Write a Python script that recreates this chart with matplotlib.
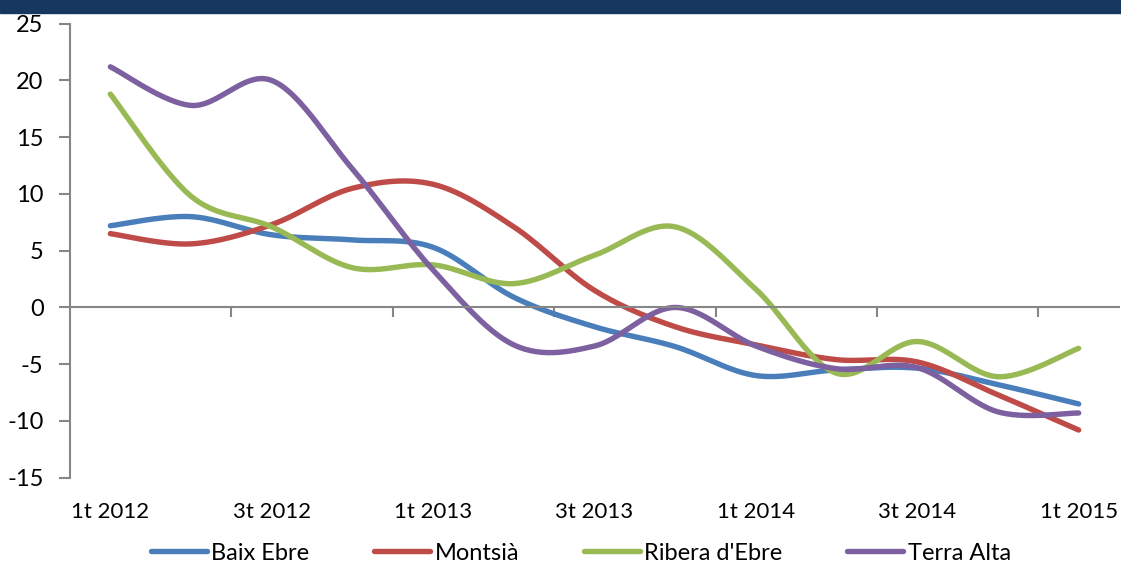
import numpy as np
import matplotlib.pyplot as plt
from matplotlib.patches import Rectangle
from matplotlib.transforms import blended_transform_factory

plt.rcParams['font.family'] = ['Lato', 'DejaVu Sans']
plt.rcParams['axes.unicode_minus'] = False

quarters = ["1t 2012", "2t 2012", "3t 2012", "4t 2012",
            "1t 2013", "2t 2013", "3t 2013", "4t 2013",
            "1t 2014", "2t 2014", "3t 2014", "4t 2014", "1t 2015"]

baix_ebre = [7.2, 8.0, 6.4, 5.95, 5.3, 0.9, -1.7, -3.45, -6.0, -5.5, -5.35, -6.8, -8.5]
montsia = [6.5, 5.6, 7.3, 10.5, 10.85, 7.1, 1.5, -1.7, -3.3, -4.6, -4.8, -7.7, -10.8]
ribera = [18.8, 9.8, 7.1, 3.5, 3.75, 2.1, 4.6, 7.1, 1.6, -5.8, -3.0, -6.1, -3.6]
terra_alta = [21.2, 17.8, 20.0, 12.2, 3.3, -3.3, -3.4, 0.0, -3.4, -5.4, -5.3, -9.2, -9.3]

series = [("Baix Ebre", baix_ebre, "#4A7EBB"),
          ("Montsià", montsia, "#BE4B48"),
          ("Ribera d'Ebre", ribera, "#98B954"),
          ("Terra Alta", terra_alta, "#7D60A0")]


def smooth(y, steps=30):
    # catmull-rom style bezier, like excel's smoothed lines
    x = np.arange(len(y), dtype=float)
    p = np.column_stack([x, np.asarray(y, dtype=float)])
    out = []
    t = np.linspace(0, 1, steps)[:, None]
    for i in range(len(p) - 1):
        p0 = p[i - 1] if i > 0 else p[i]
        p3 = p[i + 2] if i + 2 < len(p) else p[i + 1]
        c1 = p[i] + (p[i + 1] - p0) / 6
        c2 = p[i + 1] - (p3 - p[i]) / 6
        seg = ((1 - t) ** 3) * p[i] + 3 * ((1 - t) ** 2) * t * c1 \
            + 3 * (1 - t) * t ** 2 * c2 + t ** 3 * p[i + 1]
        out.append(seg if i == 0 else seg[1:])
    out = np.vstack(out)
    return out[:, 0], out[:, 1]


fig = plt.figure(figsize=(11.21, 5.67), dpi=100)
fig.patches.append(Rectangle((0, 1 - 13 / 567), 1, 13 / 567, transform=fig.transFigure,
                             color="#17375E", zorder=0))

ax = fig.add_axes([70 / 1121, 1 - 477.7 / 567, 1049 / 1121, (477.7 - 23.7) / 567])

for name, vals, col in series:
    xs, ys = smooth(vals)
    ax.plot(xs, ys, color=col, lw=3.9, label=name, solid_capstyle="round")

ax.set_xlim(-0.5, len(quarters) - 0.5)
ax.set_ylim(-15, 25)
ax.set_yticks(range(-15, 26, 5))

grey = "#868686"
for s in ["top", "right"]:
    ax.spines[s].set_visible(False)
ax.spines["left"].set_color(grey)
ax.spines["left"].set_linewidth(1.5)
ax.spines["bottom"].set_position(("data", 0))
ax.spines["bottom"].set_color(grey)
ax.spines["bottom"].set_linewidth(1.5)

ax.set_xticks(np.arange(1.5, len(quarters) - 1, 2))
ax.set_xticklabels([])
ax.tick_params(axis="x", direction="out", length=7, width=1.5, color=grey)
ax.tick_params(axis="y", direction="out", length=8, width=1.5, color=grey,
               labelsize=17, pad=11)

trans = blended_transform_factory(ax.transData, ax.transAxes)
for i in range(0, len(quarters), 2):
    ax.text(i, -0.075, quarters[i], transform=trans, ha="center", va="center",
            fontsize=16)

ax.legend(loc="center", bbox_to_anchor=(581 / 1121, 1 - 553 / 567),
          bbox_transform=fig.transFigure, ncol=4, frameon=False, fontsize=17,
          handlelength=2.35, handletextpad=0.2, columnspacing=2.75)

fig.savefig("out.png", dpi=100)
